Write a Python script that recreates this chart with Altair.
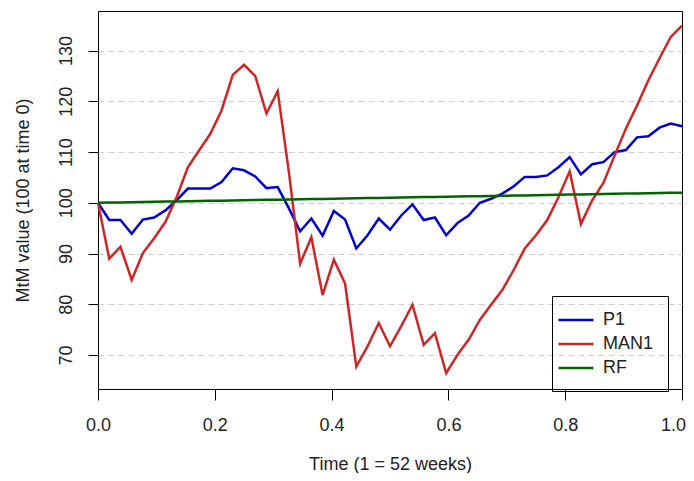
import altair as alt
import pandas as pd

weeks = list(range(53))

p1 = [100.0, 96.6, 96.6, 93.9, 96.7, 97.1, 98.5, 100.5, 102.8, 102.8,
      102.8, 104.1, 106.8, 106.4, 105.2, 102.9, 103.1, 98.9, 94.4, 96.9,
      93.5, 98.4, 96.7, 91.0, 93.6, 96.9, 94.7, 97.5, 99.7, 96.6,
      97.1, 93.6, 96.0, 97.5, 100.0, 100.8, 101.8, 103.2, 105.1, 105.1,
      105.4, 107.0, 109.0, 105.6, 107.6, 108.0, 110.0, 110.4, 112.9, 113.1,
      114.8, 115.6, 115.1]

man1 = [100.0, 89.0, 91.3, 84.8, 90.1, 93.0, 96.2, 101.1, 107.0, 110.3,
        113.6, 118.2, 125.2, 127.2, 125.0, 117.6, 122.0, 106.0, 88.0, 93.2,
        81.8, 88.8, 84.1, 67.7, 71.7, 76.3, 71.7, 75.7, 79.9, 72.0,
        74.3, 66.4, 70.0, 73.0, 76.9, 79.9, 82.8, 86.7, 91.0, 93.6,
        96.6, 101.1, 106.2, 95.8, 100.5, 103.9, 109.3, 114.6, 119.2, 124.1,
        128.5, 132.7, 134.9]

rf = [100.00, 100.04, 100.08, 100.12, 100.15, 100.19, 100.23, 100.27, 100.31, 100.35,
      100.38, 100.42, 100.46, 100.50, 100.54, 100.58, 100.62, 100.65, 100.69, 100.73,
      100.77, 100.81, 100.85, 100.88, 100.92, 100.96, 101.00, 101.04, 101.08, 101.12,
      101.15, 101.19, 101.23, 101.27, 101.31, 101.35, 101.38, 101.42, 101.46, 101.50,
      101.54, 101.58, 101.62, 101.65, 101.69, 101.73, 101.77, 101.81, 101.85, 101.88,
      101.92, 101.96, 102.00]

series_names = ["P1", "MAN1", "RF"]
series_colors = ["#0000CD", "#CD2626", "#006400"]
x_ticks = [0.0, 0.2, 0.4, 0.6, 0.8, 1.0]
y_ticks = [70, 80, 90, 100, 110, 120, 130]

rows = []
for name, vals in zip(series_names, [p1, man1, rf]):
    for w, v in zip(weeks, vals):
        rows.append({"series": name, "t": w / 52, "value": v, "order": w})
df = pd.DataFrame(rows)

FONT = "Liberation Sans, Arial, Helvetica, sans-serif"

chart = (
    alt.Chart(df)
    .mark_line(strokeWidth=2.5)
    .encode(
        x=alt.X(
            "t:Q",
            scale=alt.Scale(domain=[0, 1], nice=False, zero=False),
            axis=alt.Axis(
                values=x_ticks, format=".1f", title="Time (1 = 52 weeks)",
                grid=False, domain=False, tickSize=11, tickColor="black",
                labelPadding=16, labelFlush=False, labelOverlap=False,
                labelOffset={"condition": {"test": "datum.value == 1", "value": -9}, "value": 0},
                labelFontSize=18, labelColor="#222", titleFontSize=18,
                titleColor="#222", titleFontWeight="normal",
                titleY=80, titleBaseline="alphabetic",
            ),
        ),
        y=alt.Y(
            "value:Q",
            scale=alt.Scale(domain=[63.3, 137.8], nice=False, zero=False),
            axis=alt.Axis(
                values=y_ticks, format="d", title="MtM value (100 at time 0)",
                grid=True, gridDash=[6, 4], gridColor="#cfcfcf", gridWidth=1,
                domain=False, tickSize=10, tickColor="black",
                labelAngle=270, labelAlign="center", labelBaseline="bottom",
                labelPadding=13, labelFontSize=18, labelColor="#222",
                titleFontSize=18, titleColor="#222", titleFontWeight="normal",
                titleX=-75, titleBaseline="middle", titleAngle=270,
            ),
        ),
        color=alt.Color(
            "series:N",
            scale=alt.Scale(domain=series_names, range=series_colors),
            legend=alt.Legend(
                title=None, orient="none", legendX=454, legendY=285,
                strokeColor="black", padding=14, symbolType="M-2,0H2",
                symbolSize=306, symbolStrokeWidth=2.5, labelFontSize=18,
                labelOffset=17, rowPadding=5, labelColor="#222",
                cornerRadius=0,
            ),
        ),
        order="order:Q",
    )
    .properties(
        width=584, height=378,
        padding={"left": 90, "top": 3, "right": 4, "bottom": 84},
        autosize=alt.AutoSizeParams(type="none"),
    )
    .configure(font=FONT)
    .configure_view(stroke="black", strokeWidth=1)
)

chart.save("out.html", embed_options={"renderer": "svg", "actions": False})
